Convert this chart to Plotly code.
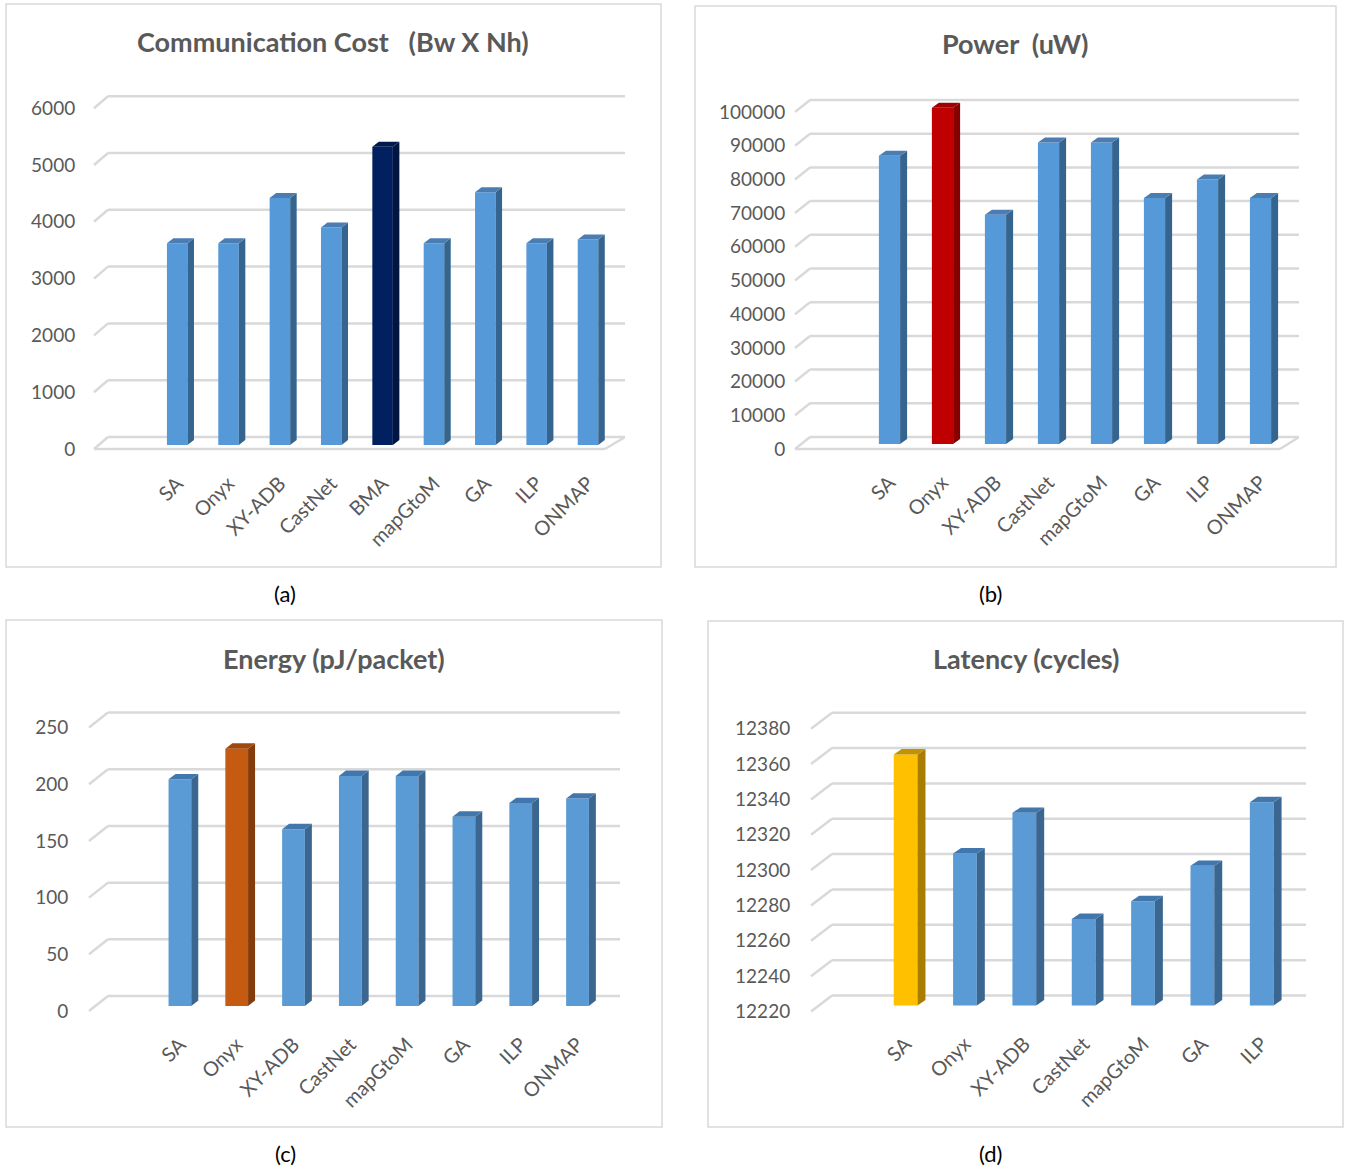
import plotly.graph_objects as go

W, H = 1348, 1172

# ---------------- data ----------------
cats_a = ["SA", "Onyx", "XY-ADB", "CastNet", "BMA", "mapGtoM", "GA", "ILP", "ONMAP"]
comm_cost = [3550, 3550, 4350, 3830, 5250, 3550, 4450, 3550, 3620]
ticks_a = [0, 1000, 2000, 3000, 4000, 5000, 6000]

cats_b = ["SA", "Onyx", "XY-ADB", "CastNet", "mapGtoM", "GA", "ILP", "ONMAP"]
power = [85500, 99800, 68000, 89500, 89500, 73000, 78500, 73000]
ticks_b = [0, 10000, 20000, 30000, 40000, 50000, 60000, 70000, 80000, 90000, 100000]

cats_c = ["SA", "Onyx", "XY-ADB", "CastNet", "mapGtoM", "GA", "ILP", "ONMAP"]
energy = [200, 227, 156, 203, 203, 167, 179, 183]
ticks_c = [0, 50, 100, 150, 200, 250]

cats_d = ["SA", "Onyx", "XY-ADB", "CastNet", "mapGtoM", "GA", "ILP"]
latency = [12362, 12306, 12329, 12269, 12279, 12299, 12335]
ticks_d = [12220, 12240, 12260, 12280, 12300, 12320, 12340, 12360, 12380]

titles = ["Communication Cost\u00a0\u00a0\u00a0(Bw X Nh)", "Power\u00a0\u00a0(uW)",
          "Energy (pJ/packet)", "Latency (cycles)"]
captions = ["(a)", "(b)", "(c)", "(d)"]

# ---------------- styling / layout (pixels) ----------------
panels = [
    dict(cats=cats_a, vals=comm_cost, ticks=ticks_a,
         x0=108, x1=625, bot=445, scale=56.8 / 1000, spacing=51.35, first=177.2,
         hi=4, front="#5699d8", side="#35648f", top="#4b7db3",
         hfront="#002060", hside="#00153f", htop="#001a4f",
         depth=6.5, rise=5, back=8, front_off=-4, diag_w=15, ticklen=13,
         floor=True, floor_right=605,
         box=(6, 4, 661, 567), title_xy=(333, 41), cap_xy=(285, 593)),
    dict(cats=cats_b, vals=power, ticks=ticks_b,
         x0=810, x1=1299, bot=444, scale=3.37 / 1000, spacing=53.0, first=889.5,
         hi=1, front="#5699d8", side="#35648f", top="#4b7db3",
         hfront="#c00000", hside="#860000", htop="#9c0000",
         depth=7, rise=5, back=7, front_off=-5, diag_w=16, ticklen=4,
         floor=True, floor_right=1280,
         box=(695, 6, 1336, 567), title_xy=(1015, 43), cap_xy=(990, 593)),
    dict(cats=cats_c, vals=energy, ticks=ticks_c,
         x0=108, x1=620, bot=1006, scale=1.1336, spacing=56.8, first=179.9,
         hi=1, front="#5b9bd5", side="#3a6690", top="#4277ad",
         hfront="#c55a11", hside="#843c0c", htop="#a0480e",
         depth=7, rise=5.4, back=10, front_off=-5, diag_w=20, ticklen=15,
         floor=False, floor_right=None,
         box=(6, 620, 662, 1127), title_xy=(334, 658), cap_xy=(285, 1153)),
    dict(cats=cats_d, vals=latency, ticks=ticks_d,
         x0=832, x1=1306, bot=1005.5, scale=1.7675, spacing=59.35, first=905.6,
         hi=0, front="#5b9bd5", side="#3a6690", top="#4277ad",
         hfront="#ffc000", hside="#a87d00", htop="#c29200",
         depth=8, rise=5.4, back=10, front_off=-6, diag_w=22, ticklen=15,
         floor=False, floor_right=None,
         box=(708, 621, 1343, 1127), title_xy=(1026, 658), cap_xy=(990, 1153)),
]

BAR_W = 0.40
GRID = "#d9d9d9"
TXT = "#595959"
FONT = "Lato"
PAD_BOT = 8   # px below the floor so the front edge is not clipped
PAD_TOP = 18  # px above the top tick so the back gridline is not clipped

fig = go.Figure()
layout = dict(width=W, height=H, margin=dict(l=0, r=0, t=0, b=0, pad=0),
              autosize=False, template="none",
              paper_bgcolor="white", plot_bgcolor="rgba(0,0,0,0)",
              showlegend=False, shapes=[], annotations=[])

for k, p in enumerate(panels):
    sfx = "" if k == 0 else str(k + 1)
    xa, ya = "x" + sfx, "y" + sfx
    n = len(p["cats"])
    xs = list(range(n))
    ymin, ytick_top = p["ticks"][0], p["ticks"][-1]
    xgrid = -(p["first"] - p["x0"]) / p["spacing"]          # left end of back gridlines
    xleft = xgrid - p["diag_w"] / p["spacing"]               # axis left edge
    xright = xgrid + (p["x1"] - p["x0"]) / p["spacing"]
    ylo = ymin - PAD_BOT / p["scale"]
    yhi = ytick_top + PAD_TOP / p["scale"]
    top_px = p["bot"] - (yhi - ymin) * p["scale"]
    d = p["depth"] / p["spacing"]
    r = p["rise"] / p["scale"]

    fronts = [p["hfront"] if i == p["hi"] else p["front"] for i in xs]
    fig.add_trace(go.Bar(x=xs, y=[v - ymin for v in p["vals"]], base=ymin,
                         width=BAR_W, marker=dict(color=fronts, line=dict(width=0)),
                         xaxis=xa, yaxis=ya, hoverinfo="skip"))
    for i, v in zip(xs, p["vals"]):
        sc = p["hside"] if i == p["hi"] else p["side"]
        tc = p["htop"] if i == p["hi"] else p["top"]
        xr = i + BAR_W / 2
        xl = i - BAR_W / 2
        fig.add_trace(go.Scatter(x=[xr, xr, xr + d, xr + d, xr],
                                 y=[ymin, v, v + r, ymin + r, ymin],
                                 mode="lines", line=dict(width=0), fill="toself",
                                 fillcolor=sc, xaxis=xa, yaxis=ya, hoverinfo="skip"))
        fig.add_trace(go.Scatter(x=[xl, xr, xr + d, xl + d, xl],
                                 y=[v, v, v + r, v + r, v],
                                 mode="lines", line=dict(width=0), fill="toself",
                                 fillcolor=tc, xaxis=xa, yaxis=ya, hoverinfo="skip"))

    xkey = "xaxis" + sfx
    ykey = "yaxis" + sfx
    layout[xkey] = dict(domain=[(p["x0"] - p["diag_w"]) / W, p["x1"] / W], anchor=ya,
                        range=[xleft, xright], tickmode="array", tickvals=xs,
                        ticktext=p["cats"], tickangle=-45, ticks="outside",
                        ticklen=10, tickcolor="rgba(0,0,0,0)", showgrid=False,
                        zeroline=False, showline=False, fixedrange=True,
                        automargin=False,
                        tickfont=dict(family=FONT, size=20, color=TXT))
    layout[ykey] = dict(domain=[1 - (p["bot"] + PAD_BOT) / H, 1 - top_px / H], anchor=xa,
                        range=[ylo, yhi], tickmode="array",
                        tickvals=p["ticks"], ticktext=[str(t) for t in p["ticks"]],
                        ticks="outside", ticklen=p["ticklen"],
                        ticklabelshift=-int(p["front_off"]),
                        tickcolor="rgba(0,0,0,0)", showgrid=False, zeroline=False,
                        showline=False, fixedrange=True, automargin=False,
                        tickfont=dict(family=FONT, size=19, color=TXT))

    # 3-D style gridlines: back-wall line plus diagonal toward the front
    for t in p["ticks"]:
        layout["shapes"].append(dict(type="line", xref=xa, yref=ya, layer="below",
                                     xsizemode="scaled", ysizemode="pixel", yanchor=t,
                                     x0=xgrid, x1=xright, y0=p["back"], y1=p["back"],
                                     line=dict(color=GRID, width=2.5)))
        layout["shapes"].append(dict(type="line", xref=xa, yref=ya, layer="below",
                                     xsizemode="pixel", xanchor=xgrid,
                                     ysizemode="pixel", yanchor=t,
                                     x0=0, x1=-p["diag_w"] + 1, y0=p["back"],
                                     y1=p["front_off"],
                                     line=dict(color=GRID, width=2.5)))
    if p["floor"]:
        fr = p["floor_right"] - p["x0"]
        full = p["x1"] - p["x0"]
        layout["shapes"].append(dict(type="line", xref=xa, yref=ya, layer="below",
                                     xsizemode="pixel", xanchor=xgrid,
                                     ysizemode="pixel", yanchor=ymin,
                                     x0=-p["diag_w"] + 1, x1=fr, y0=p["front_off"],
                                     y1=p["front_off"],
                                     line=dict(color=GRID, width=2.5)))
        layout["shapes"].append(dict(type="line", xref=xa, yref=ya, layer="below",
                                     xsizemode="pixel", xanchor=xgrid,
                                     ysizemode="pixel", yanchor=ymin,
                                     x0=fr, x1=full, y0=p["front_off"],
                                     y1=p["back"],
                                     line=dict(color=GRID, width=2.5)))

    bx0, by0, bx1, by1 = p["box"]
    layout["shapes"].append(dict(type="rect", xref="paper", yref="paper",
                                 x0=bx0 / W, x1=bx1 / W, y0=1 - by1 / H, y1=1 - by0 / H,
                                 line=dict(color="#d9d9d9", width=1.5),
                                 fillcolor="rgba(0,0,0,0)", layer="below"))
    tx, ty = p["title_xy"]
    layout["annotations"].append(dict(text=titles[k], xref="paper", yref="paper",
                                      x=tx / W, y=1 - ty / H, xanchor="center",
                                      yanchor="middle", showarrow=False,
                                      font=dict(family=FONT, size=27, color=TXT,
                                                weight="bold")))
    cx, cy = p["cap_xy"]
    layout["annotations"].append(dict(text=captions[k], xref="paper", yref="paper",
                                      x=cx / W, y=1 - cy / H, xanchor="center",
                                      yanchor="middle", showarrow=False,
                                      font=dict(family=FONT, size=22, color="black")))

fig.update_layout(**layout)
fig.write_html("out.html")
